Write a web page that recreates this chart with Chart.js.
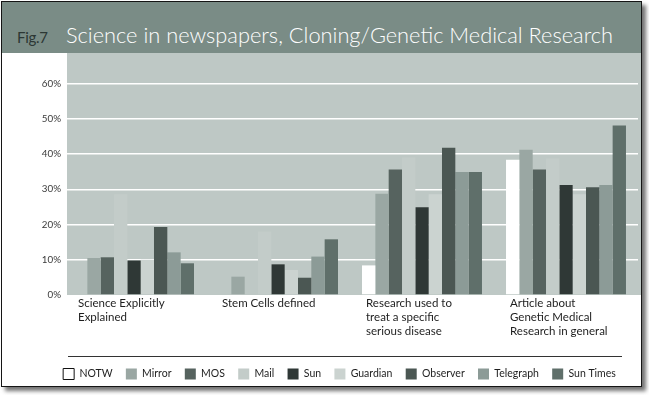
<!DOCTYPE html>
<html>
<head>
<meta charset="utf-8">
<script src="https://cdn.jsdelivr.net/npm/chart.js@4"></script>
<style>
	html, body {
		margin: 0;
		padding: 0;
		background: #fff;
		width: 649px;
		height: 395px;
		overflow: hidden;
	}
	.frame {
		position: absolute;
		left: 1px;
		top: 1px;
		width: 639px;
		height: 384px;
		border: 1.5px solid #151515;
		box-shadow: 4px 4px 4px rgba(0, 0, 0, 0.55);
		background: #fff;
	}
	.title-bar {
		position: absolute;
		left: 0;
		top: 0;
		width: 100%;
		height: 51px;
		background: #7a8c86;
		font-family: Lato, sans-serif;
	}
	.title-bar .fig {
		position: absolute;
		left: 15px;
		top: 26px;
		font-size: 15px;
		color: #2c3734;
		letter-spacing: -0.3px;
	}
	.title-bar .text {
		position: absolute;
		left: 64px;
		top: 19px;
		font-size: 21.8px;
		color: #fff;
		font-weight: 300;
	}
	.legend-rule {
		position: absolute;
		left: 68px;
		top: 356px;
		width: 554px;
		height: 1px;
		background: #333;
	}
	#chartScience {
		position: absolute;
		left: 0;
		top: 0;
	}
</style>
</head>
<body>
<div class="frame">
	<div class="title-bar">
		<span class="fig">Fig.7</span>
		<span class="text">Science in newspapers, Cloning/Genetic Medical Research</span>
	</div>
</div>
<div class="legend-rule"></div>
<canvas id="chartScience" width="649" height="395"></canvas>
<script>
const CATEGORIES = [
	['Science Explicitly', 'Explained'],
	['Stem Cells defined'],
	['Research used to', 'treat a specific', 'serious disease'],
	['Article about', 'Genetic Medical', 'Research in general'],
];

// percentages per paper, one value per category
const NOTW = [0, 0, 8.4, 38.4];
const MIRROR = [10.5, 5.2, 28.7, 41.2];
const MOS = [10.7, 0, 35.6, 35.6];
const MAIL = [28.6, 18, 39, 38.7];
const SUN = [9.8, 8.7, 24.9, 31.2];
const GUARDIAN = [10, 7.1, 28.6, 28.6];
const OBSERVER = [19.3, 4.9, 41.8, 30.6];
const TELEGRAPH = [12.1, 10.9, 34.9, 31.2];
const SUN_TIMES = [9.0, 15.8, 34.9, 48.1];

const Y_TICK_MAX = 60;
const Y_TICK_STEP = 10;

const PLOT_BG = '#bec8c5';
const FONT = 'Lato, "Open Sans", sans-serif';

const plotBackground = {
	id: 'plotBackground',
	beforeDraw(chart) {
		const { ctx, chartArea } = chart;
		ctx.save();
		ctx.fillStyle = PLOT_BG;
		ctx.fillRect(
			chartArea.left + 5,
			chartArea.top,
			chartArea.right - chartArea.left - 2,
			chartArea.bottom - chartArea.top
		);
		ctx.restore();
	},
};

function paper(label, data, color) {
	return {
		label: label,
		data: data,
		backgroundColor: color,
		borderWidth: 0,
		barPercentage: 1,
		categoryPercentage: 0.833,
	};
}

function shownTick(value) {
	return value > 0 && value <= Y_TICK_MAX;
}

const ctx = document.querySelector('#chartScience').getContext('2d');

new Chart(ctx, {
	type: 'bar',
	data: {
		labels: CATEGORIES,
		datasets: [
			paper('NOTW', NOTW, '#ffffff'),
			paper('Mirror', MIRROR, '#9aa7a3'),
			paper('MOS', MOS, '#56635f'),
			paper('Mail', MAIL, '#c3ccc9'),
			paper('Sun', SUN, '#2f3836'),
			paper('Guardian', GUARDIAN, '#cbd3d0'),
			paper('Observer', OBSERVER, '#4b5753'),
			paper('Telegraph', TELEGRAPH, '#8c9b97'),
			paper('Sun Times', SUN_TIMES, '#5f6f6a'),
		],
	},
	options: {
		responsive: false,
		animation: false,
		layout: {
			padding: { left: 41, right: 11, top: 53, bottom: 5.5 },
		},
		scales: {
			y: {
				min: 0,
				max: 68.66,
				afterFit: scale => {
					scale.width = 21;
				},
				border: { display: false },
				grid: {
					drawTicks: false,
					lineWidth: 1.5,
					color: c => (c.tick && shownTick(c.tick.value) ? '#ffffff' : 'rgba(0,0,0,0)'),
				},
				ticks: {
					stepSize: Y_TICK_STEP,
					padding: 1,
					color: '#3a3a3a',
					font: { family: FONT, size: 9.8 },
					callback: value => (value <= Y_TICK_MAX ? value + '%' : ''),
				},
			},
			x: {
				afterFit: scale => {
					scale.height = 60.2;
					scale.paddingLeft = 0;
					scale.paddingRight = 0;
				},
				border: { display: false },
				grid: { display: false, drawTicks: false },
				ticks: {
					align: 'start',
					labelOffset: -56,
					padding: 1,
					maxRotation: 0,
					autoSkip: false,
					color: '#1e1e1e',
					font: { family: FONT, size: 11.5, lineHeight: '14px' },
				},
			},
		},
		plugins: {
			legend: {
				position: 'bottom',
				align: 'center',
				labels: {
					boxWidth: 11,
					boxHeight: 11,
					padding: 13.3,
					color: '#1e1e1e',
					font: { family: FONT, size: 10.5 },
					generateLabels: chart => {
						const items = Chart.defaults.plugins.legend.labels.generateLabels(chart);
						items.forEach(item => {
							if (item.text === 'NOTW') {
								item.strokeStyle = '#111111';
								item.lineWidth = 1;
							} else {
								item.lineWidth = 0;
							}
						});
						return items;
					},
				},
			},
			tooltip: { enabled: false },
			title: { display: false },
		},
	},
	plugins: [plotBackground],
});
</script>
</body>
</html>
